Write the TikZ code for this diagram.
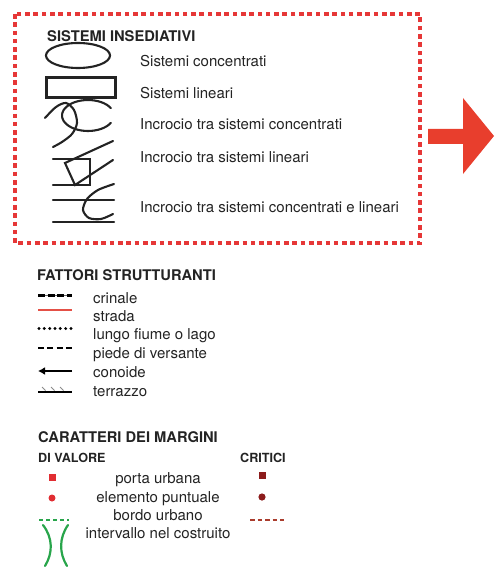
\documentclass[tikz,border=0pt]{standalone}
\usepackage{fontspec}
\setmainfont{TeX Gyre Heros}
\usetikzlibrary{arrows.meta}
\definecolor{txt}{RGB}{35,35,35}
\definecolor{ink}{RGB}{35,35,35}
\definecolor{borderred}{RGB}{230,55,55}
\definecolor{arrowred}{RGB}{232,62,45}
\definecolor{roadred}{RGB}{228,80,70}
\definecolor{valred}{RGB}{225,45,50}
\definecolor{critred}{RGB}{140,28,28}
\definecolor{critdash}{RGB}{170,60,45}
\definecolor{margingreen}{RGB}{40,165,75}
\tikzset{
  body/.style={anchor=base west, inner sep=0pt, text=txt, font=\fontsize{15}{18}\selectfont},
  bodyc/.style={anchor=base, inner sep=0pt, text=txt, font=\fontsize{15}{18}\selectfont},
  head/.style={anchor=base west, inner sep=0pt, text=txt, font=\fontsize{14.7}{17}\selectfont\bfseries},
  subhead/.style={anchor=base west, inner sep=0pt, text=txt, font=\fontsize{12.6}{15}\selectfont\bfseries},
  icon/.style={draw=ink, line width=2.1pt, line cap=round},
}
\begin{document}
\begin{tikzpicture}[x=1pt,y=-1pt]
\useasboundingbox (0,0) rectangle (496,588);
% dotted frame
\draw[borderred, line width=4.8pt, dash pattern=on 4.6pt off 3.7pt] (15,14) rectangle (420,243);
% big arrow
\fill[arrowred] (428,129) -- (463,129) -- (463,98) -- (494,136) -- (463,174) -- (463,144) -- (428,144) -- cycle;

% ---------- SISTEMI INSEDIATIVI ----------
\node[head] (h1) at (47,41.5) {SISTEMI INSEDIATIVI};
\node[body] (t1) at (140,67) {Sistemi concentrati};
\node[body] (t2) at (140,99) {Sistemi lineari};
\node[body] (t3) at (140,130) {Incrocio tra sistemi concentrati};
\node[body] (t4) at (140,162) {Incrocio tra sistemi lineari};
\node[body] (t5) at (140,212) {Incrocio tra sistemi concentrati e lineari};

% icons
\draw[icon] (78,55.5) ellipse [x radius=32, y radius=12.5];
\draw[icon] (46.5,77.5) rectangle (115.5,97.5);
% crossing concentrated
\draw[icon] plot[smooth, domain=28:332, samples=40, variable=\t] ({88+26*cos(\t)},{115.5-15.5*sin(\t)});
\draw[icon] plot[smooth] coordinates {(45,118) (56,107) (66,103) (74,110) (77,123) (72,134) (62,142) (53,147)};
% crossing linear
\draw[icon] (53,159) -- (90,159) -- (90,185) -- (53,185);
\draw[icon] (113,141) -- (65,163) -- (75,185) -- (113,160);
% crossing concentrated and linear
\draw[icon] (53,200) -- (114,200);
\draw[icon] (53,222) -- (114,222);
\draw[icon] plot[smooth] coordinates {(114,184) (98,190) (87,199) (83,210) (89,218) (101,219) (113,214)};

% ---------- FATTORI STRUTTURANTI ----------
\node[head] (h2) at (37,280) {FATTORI STRUTTURANTI};
\node[body] (f1) at (93,303) {crinale};
\node[body] (f2) at (93,321) {strada};
\node[body] (f3) at (93,339.5) {lungo fiume o lago};
\node[body] (f4) at (93,358) {piede di versante};
\node[body] (f5) at (93,377) {conoide};
\node[body] (f6) at (93,396) {terrazzo};

\coordinate (c1a) at (38,295); \coordinate (c1b) at (72,295);
\draw[black!60, line width=0.8pt] (c1a) -- (c1b);
\draw[black, line width=3pt, dash pattern=on 7pt off 2.5pt] (c1a) -- (c1b);
\coordinate (c2a) at (38,310); \coordinate (c2b) at (72,310);
\draw[roadred, line width=2pt] (c2a) -- (c2b);
\foreach \i in {0,...,6} \fill[black] ({39+\i*5.33},328.5) circle (1.6pt);
\coordinate (c4a) at (38,348); \coordinate (c4b) at (72,348);
\draw[black, line width=1.6pt, dash pattern=on 6pt off 3.3pt] (c4a) -- (c4b);
\coordinate (c5a) at (72,371); \coordinate (c5b) at (38,371);
\draw[black, line width=1.8pt, -{Latex[length=7pt,width=8pt]}] (c5a) -- (c5b);
\coordinate (c6a) at (38,392); \coordinate (c6b) at (72,392);
\draw[black, line width=1.8pt] (c6a) -- (c6b);
\foreach \x in {44,53,62} \draw[black!45, line width=0.8pt] (\x-2,387) -- (\x+1.5,390.5);

% ---------- CARATTERI DEI MARGINI ----------
\node[head] (h3) at (38,442) {CARATTERI DEI MARGINI};
\node[subhead] (s1) at (38,462) {DI VALORE};
\node[subhead] (s2) at (240,462) {CRITICI};
\node[bodyc] (m1) at (158,483) {porta urbana};
\node[bodyc] (m2) at (158,502) {elemento puntuale};
\node[bodyc] (m3) at (158,520) {bordo urbano};
\node[bodyc] (m4) at (158,538.5) {intervallo nel costruito};

\fill[valred] (48.5,473.5) rectangle (55.5,480.5);
\fill[valred] (52,498) circle (3.5pt);
\draw[margingreen, line width=1.8pt, dash pattern=on 4pt off 3pt] (39,520) -- (69,520);
\draw[margingreen, line width=2.2pt, line cap=round] (43,525) .. controls (53,538) and (53,553) .. (45,566);
\draw[margingreen, line width=2.2pt, line cap=round] (68,525) .. controls (59,538) and (59,553) .. (67,566);

\fill[critred] (258.5,471.5) rectangle (265.5,478.5);
\fill[critred] (262,497) circle (3.6pt);
\draw[critdash, line width=2pt, dash pattern=on 4.5pt off 3pt] (250,519.5) -- (284,519.5);
\end{tikzpicture}
\end{document}
